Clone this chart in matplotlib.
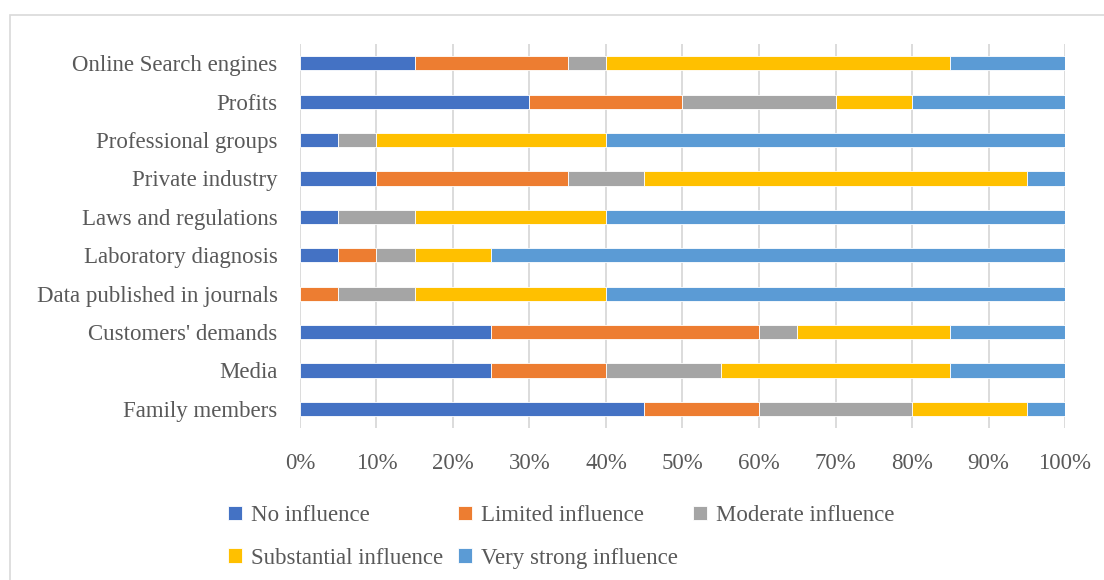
import matplotlib.pyplot as plt
from matplotlib.patches import Rectangle

plt.rcParams['font.family'] = ['Liberation Serif', 'DejaVu Serif']

# factors, listed bottom to top
factors = ["Family members", "Media", "Customers' demands",
           "Data published in journals", "Laboratory diagnosis",
           "Laws and regulations", "Private industry", "Professional groups",
           "Profits", "Online Search engines"]

# share of respondents (%) per influence level
no_influence = [45, 25, 25, 0, 5, 5, 10, 5, 30, 15]
limited = [15, 15, 35, 5, 5, 0, 25, 0, 20, 20]
moderate = [20, 15, 5, 10, 5, 10, 10, 5, 20, 5]
substantial = [15, 30, 20, 25, 10, 25, 50, 30, 10, 45]
very_strong = [5, 15, 15, 60, 75, 60, 5, 60, 20, 15]

levels = ["No influence", "Limited influence", "Moderate influence",
          "Substantial influence", "Very strong influence"]
colors = ["#4472C4", "#ED7D31", "#A5A5A5", "#FFC000", "#5B9BD5"]
series = [no_influence, limited, moderate, substantial, very_strong]

text_col = "#595959"

fig = plt.figure(figsize=(11.04, 5.80), dpi=100)
ax = fig.add_axes([0.2717, 0.262, 0.6930, 0.662])

left = [0] * len(factors)
handles = []
for vals, col, lab in zip(series, colors, levels):
    frac = [v / 100 for v in vals]
    h = ax.barh(factors, frac, left=left, height=0.37, color=col,
                edgecolor="white", linewidth=0.6, label=lab, zorder=3)
    handles.append(h)
    left = [a + b for a, b in zip(left, frac)]

ax.set_xlim(0, 1)
ax.set_ylim(-0.5, len(factors) - 0.5)
ax.set_xticks([i / 10 for i in range(11)])
ax.set_xticklabels([f"{i * 10}%" for i in range(11)])
ax.xaxis.grid(True, color="#D9D9D9", linewidth=1.3, zorder=0)
ax.tick_params(axis="both", length=0, labelsize=16.5, labelcolor=text_col)
ax.tick_params(axis="x", pad=18)
ax.tick_params(axis="y", pad=16)
for s in ax.spines.values():
    s.set_visible(False)

# reorder so the legend reads row by row
order = [0, 3, 1, 4, 2]
fig.legend([handles[i] for i in order], [levels[i] for i in order],
           ncol=3, loc="upper left", bbox_to_anchor=(0.188, 0.165),
           frameon=False, fontsize=16.5, labelcolor=text_col,
           handlelength=0.6, handleheight=0.6, handletextpad=0.4,
           columnspacing=0.65, labelspacing=0.95)

# chart frame, running off the right and bottom edges
fig.patches.append(Rectangle((10 / 1104, -0.05), 1.1, 1 - 15 / 580 + 0.05,
                             transform=fig.transFigure, fill=False,
                             edgecolor="#D9D9D9", linewidth=1.2))

fig.savefig("out.png", dpi=100)
